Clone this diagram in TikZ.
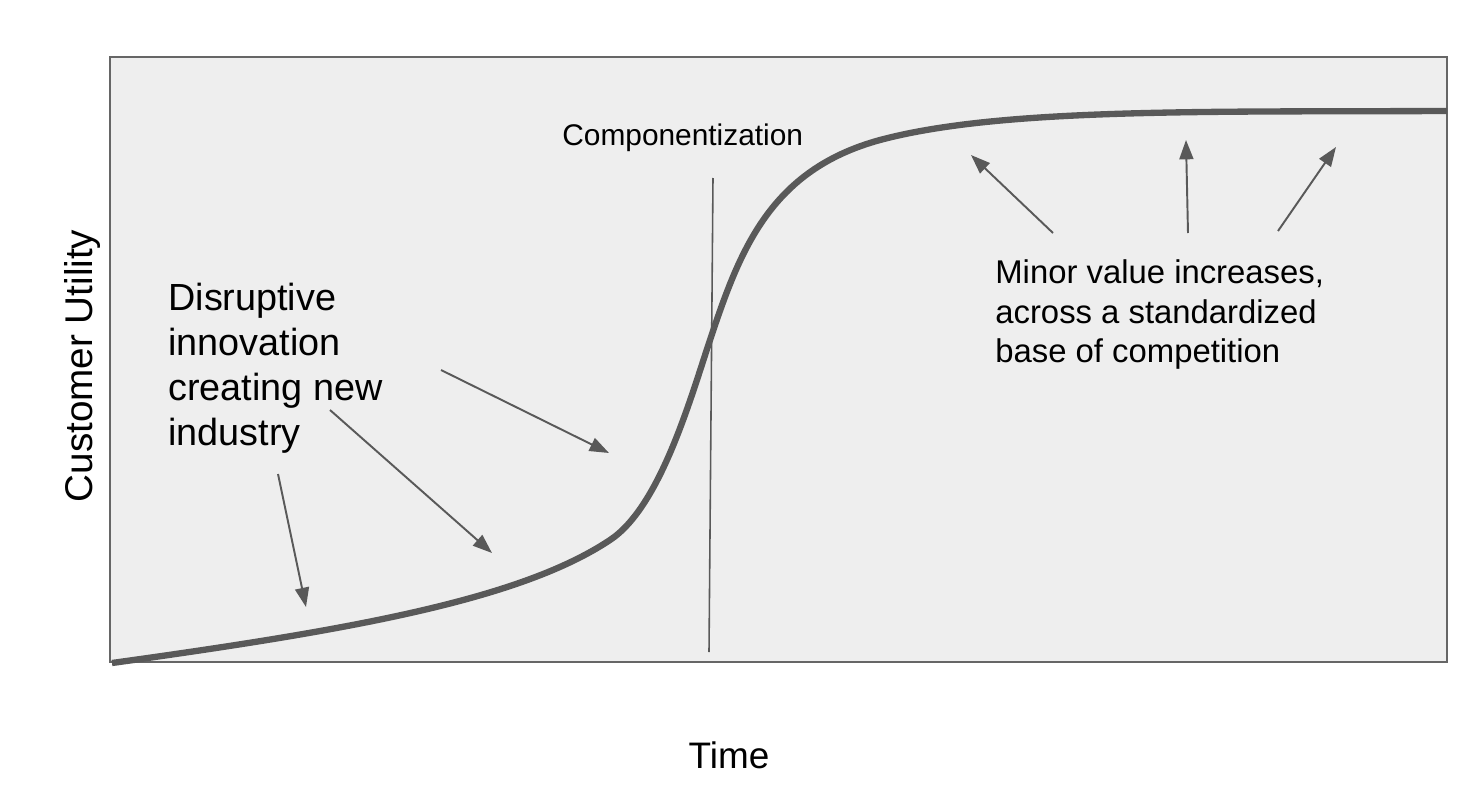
\documentclass[tikz,border=0pt]{standalone}
\usepackage{fontspec}
\setmainfont{Liberation Sans}
\usetikzlibrary{arrows.meta}
\definecolor{panelgray}{RGB}{238,238,238}
\definecolor{framegray}{RGB}{102,102,102}
\definecolor{curvegray}{RGB}{89,89,89}

\begin{document}
\begin{tikzpicture}[
  x=0.02cm,
  y=-0.02cm,
  every node/.style={inner sep=0pt, text=black},
  pointer/.style={draw=curvegray, line width=1.1pt, -{Triangle[length=11pt,width=8pt]}}
]

\useasboundingbox (0,0) rectangle (1482,808);

% Feld
\draw[framegray, fill=panelgray, line width=1.1pt] (110,57) rectangle (1447,662);

% Achsen
\node[rotate=90, anchor=base, font=\fontsize{22}{26}\selectfont] (utility) at (92,366) {Customer Utility};
\node[anchor=base, font=\fontsize{21}{25}\selectfont] (time) at (729,768) {Time};

% S-Kurve
\draw[curvegray, line width=3.6pt]
  (112,663) .. controls (350,630) and (520,600) .. (610,540)
            .. controls (660,507) and (690,400) .. (710,340)
            .. controls (740,250) and (770,170) .. (880,140)
            .. controls (1000,108) and (1200,112) .. (1447,111);

% Komponentisierung
\node[anchor=base west, font=\fontsize{17}{20}\selectfont] (comp) at (562,145) {Componentization};
\coordinate (comptop) at (713,178);
\coordinate (compbot) at (709,652);
\draw[curvegray, line width=0.9pt] (comptop) -- (compbot);

% Texte
\node[anchor=north west, align=left, font=\fontsize{21.5}{25.5}\selectfont] (disrupt) at (168,283)
  {Disruptive\\innovation\\creating new\\industry};
\node[anchor=north west, align=left, font=\fontsize{18.7}{22.7}\selectfont] (minor) at (995,259)
  {Minor value increases,\\across a standardized\\base of competition};

% Pfeile links
\coordinate (d1s) at (278,474);
\coordinate (d1e) at (306,607);
\coordinate (d2s) at (330,410);
\coordinate (d2e) at (492,553);
\coordinate (d3s) at (441,370);
\coordinate (d3e) at (609,453);
\draw[pointer] (d1s) -- (d1e);
\draw[pointer] (d2s) -- (d2e);
\draw[pointer] (d3s) -- (d3e);

% Pfeile rechts
\coordinate (m1s) at (1053,233);
\coordinate (m1e) at (971,155);
\coordinate (m2s) at (1188,233);
\coordinate (m2e) at (1186,140);
\coordinate (m3s) at (1278,231);
\coordinate (m3e) at (1336,147);
\draw[pointer] (m1s) -- (m1e);
\draw[pointer] (m2s) -- (m2e);
\draw[pointer] (m3s) -- (m3e);

\end{tikzpicture}
\end{document}
